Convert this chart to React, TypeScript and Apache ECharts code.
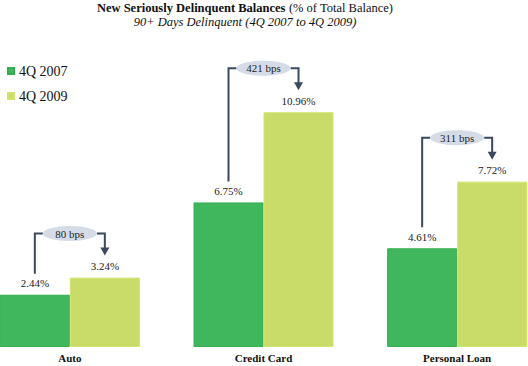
import React, { useEffect, useRef } from "react";
import * as echarts from "echarts";

const categories = ["Auto", "Credit Card", "Personal Loan"];
const q2007 = [2.44, 6.75, 4.61];
const q2009 = [3.24, 10.96, 7.72];
const bpsChange = [80, 421, 311];
const seriesNames = ["4Q 2007", "4Q 2009"];

const FONT = "Liberation Serif";
const GREEN = "#40b75d";
const LIGHT = "#c9dc69";
const LINE = "#3a4960";
const BAR_W = 70;
const OFF = 27; // container shifted left so the outer bars touch the page edges

export default function App() {
  const ref = useRef<HTMLDivElement>(null);
  useEffect(() => {
    if (!ref.current) return;
    const chart = echarts.init(ref.current, null, { renderer: "svg" });
    const annData = categories.map((_, i) => [i, q2007[i], q2009[i], bpsChange[i]]);
    const valueLabel = {
      show: true,
      position: "top",
      distance: 6,
      formatter: (p: any) => p.value.toFixed(2) + "%",
      fontFamily: FONT,
      fontSize: 11,
      color: "#222",
    };
    chart.setOption({
      animation: false,
      textStyle: { fontFamily: FONT },
      graphic: [
        {
          type: "text",
          x: 245 + OFF,
          y: 8,
          style: {
            text: "{b|New Seriously Delinquent Balances} {n|(% of Total Balance)}",
            textAlign: "center",
            textVerticalAlign: "middle",
            rich: {
              b: { fontFamily: FONT, fontSize: 12.5, fontWeight: "bold", fill: "#111" },
              n: { fontFamily: FONT, fontSize: 12.5, fill: "#111" },
            },
          },
        },
        {
          type: "text",
          x: 245 + OFF,
          y: 22,
          style: {
            text: "90+ Days Delinquent (4Q 2007 to 4Q 2009)",
            textAlign: "center",
            textVerticalAlign: "middle",
            fontFamily: FONT,
            fontSize: 12.5,
            fontStyle: "italic",
            fill: "#111",
          },
        },
      ],
      legend: {
        orient: "vertical",
        left: 2 + OFF,
        top: 59,
        itemWidth: 6,
        itemHeight: 6,
        itemGap: 11,
        icon: "rect",
        data: seriesNames,
        textStyle: { fontFamily: FONT, fontSize: 14, color: "#111", lineHeight: 14 },
      },
      grid: { left: 0, right: 0, top: 90, bottom: 19 },
      xAxis: {
        type: "category",
        data: categories,
        axisLine: { show: false },
        axisTick: { show: false },
        axisLabel: {
          fontFamily: FONT,
          fontSize: 11,
          fontWeight: "bold",
          color: "#111",
          margin: 5,
        },
      },
      yAxis: {
        type: "value",
        min: 0,
        max: 12,
        show: false,
        splitLine: { show: false },
      },
      series: [
        {
          name: seriesNames[0],
          type: "bar",
          data: q2007,
          barWidth: BAR_W,
          barGap: "0%",
          itemStyle: { color: GREEN, borderColor: "#34ad50", borderWidth: 1 },
          label: valueLabel,
        },
        {
          name: seriesNames[1],
          type: "bar",
          data: q2009,
          barWidth: BAR_W,
          barGap: "0%",
          itemStyle: { color: LIGHT, borderColor: "#d3e36c", borderWidth: 1 },
          label: valueLabel,
        },
        {
          type: "custom",
          silent: true,
          data: annData,
          z: 10,
          renderItem: (params: any, api: any) => {
            const cat = api.value(0);
            const v1 = api.value(1);
            const v2 = api.value(2);
            const bps = api.value(3);
            const p1 = api.coord([cat, v1]);
            const p2 = api.coord([cat, v2]);
            const xl = p1[0] - BAR_W / 2;
            const xr = p1[0] + BAR_W / 2;
            const cx = p1[0];
            const topY = Math.min(p1[1], p2[1]) - 44;
            const leftBottom = p1[1] - 21;
            const tipY = p2[1] - 22;
            const rx = 27;
            const ry = 7.5;
            const lineStyle = { stroke: LINE, lineWidth: 2, fill: null };
            return {
              type: "group",
              children: [
                {
                  type: "polyline",
                  shape: { points: [[xl, leftBottom], [xl, topY], [cx - rx, topY]] },
                  style: lineStyle,
                },
                {
                  type: "polyline",
                  shape: { points: [[cx + rx, topY], [xr, topY], [xr, tipY - 7]] },
                  style: lineStyle,
                },
                {
                  type: "polygon",
                  shape: { points: [[xr - 4.5, tipY - 8], [xr + 4.5, tipY - 8], [xr, tipY]] },
                  style: { fill: LINE },
                },
                {
                  type: "ellipse",
                  shape: { cx: cx, cy: topY, rx: rx, ry: ry },
                  style: { fill: "#d5dce7", stroke: null },
                },
                {
                  type: "text",
                  x: cx,
                  y: topY,
                  style: {
                    text: bps + " bps",
                    textAlign: "center",
                    textVerticalAlign: "middle",
                    fontFamily: FONT,
                    fontSize: 11,
                    fill: "#222",
                  },
                },
              ],
            };
          },
        },
      ],
    });
    return () => chart.dispose();
  }, []);
  return (
    <div
      ref={ref}
      style={{ position: "fixed", left: -OFF, top: 0, width: 528 + 2 * OFF - 1, height: 366, background: "#fff" }}
    />
  );
}
